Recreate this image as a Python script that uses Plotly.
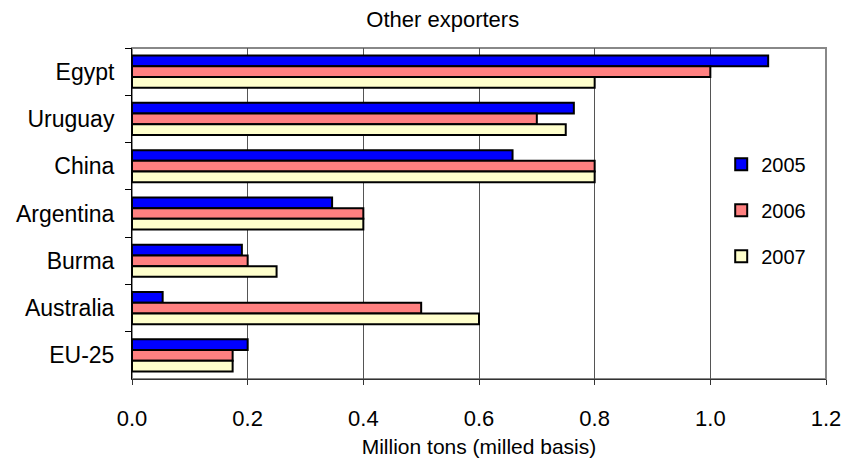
import plotly.graph_objects as go

countries = ["Egypt", "Uruguay", "China", "Argentina", "Burma", "Australia", "EU-25"]
exports_2005 = [1.10, 0.764, 0.658, 0.346, 0.19, 0.053, 0.20]
exports_2006 = [1.00, 0.70, 0.80, 0.40, 0.20, 0.50, 0.174]
exports_2007 = [0.80, 0.75, 0.80, 0.40, 0.25, 0.60, 0.174]
years = ["2005", "2006", "2007"]
colors = ["#0000FF", "#FF8080", "#FFFFCC"]

fig = go.Figure()
for yr, vals, col in zip(years, [exports_2005, exports_2006, exports_2007], colors):
    fig.add_trace(go.Bar(
        y=countries, x=vals, name=yr, orientation="h",
        marker=dict(color=col, line=dict(color="black", width=2)),
        legendgroup=yr,
    ))

font = "Liberation Sans, Arial, sans-serif"
fig.update_layout(
    width=845, height=458,
    margin=dict(l=132, r=19, t=48, b=79, autoexpand=False),
    paper_bgcolor="white", plot_bgcolor="white",
    barmode="group", bargap=0.32, bargroupgap=0,
    font=dict(family=font, size=20, color="black"),
    title=dict(text="Other exporters", x=0.524, xanchor="center",
               y=0.9585, yanchor="middle", font=dict(size=22, family=font)),
    legend=dict(x=0.849, xanchor="left", y=0.708, yanchor="top",
                font=dict(size=20), tracegroupgap=17, traceorder="grouped",
                bgcolor="rgba(0,0,0,0)"),
    xaxis=dict(range=[0, 1.2], dtick=0.2, tickformat=".1f", automargin=False,
               showgrid=True, gridcolor="#555", gridwidth=1,
               showline=True, linecolor="#333", linewidth=1,
               ticks="outside", ticklen=5, tickcolor="#333",
               ticklabelstandoff=15, zeroline=False,
               title=dict(text="Million tons (milled basis)", font=dict(size=21), standoff=9),
               tickfont=dict(size=22)),
    yaxis=dict(autorange="reversed", automargin=False,
               showline=True, linecolor="black", linewidth=1,
               ticks="outside", tickson="boundaries", ticklen=6, tickcolor="black",
               ticklabelstandoff=12, showgrid=False, tickfont=dict(size=23)),
    shapes=[dict(type="rect", xref="paper", yref="paper", x0=0, x1=1, y0=0, y1=1,
                 line=dict(color="#888", width=2), layer="below")],
)

fig.write_html("out.html")
